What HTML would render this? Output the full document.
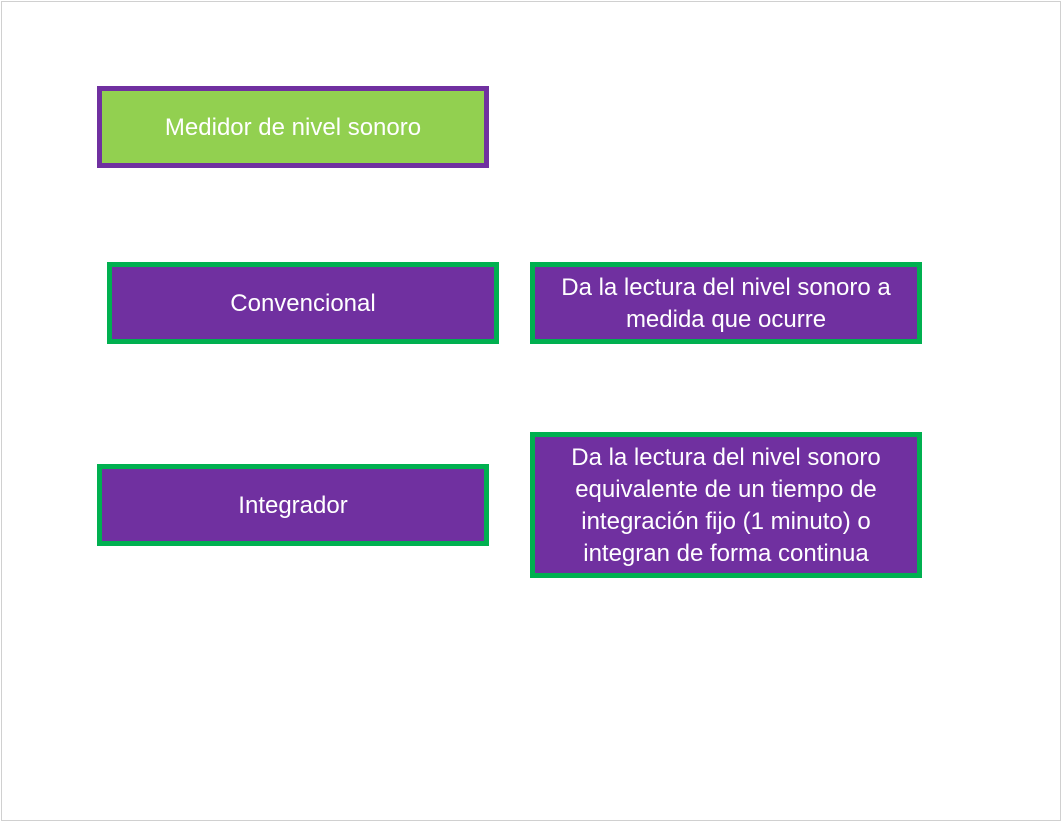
<!DOCTYPE html>
<html><head><style>
body{margin:0;width:1062px;height:822px;background:#fff;position:relative;overflow:hidden;font-family:"Liberation Sans",sans-serif;}
.frame{position:absolute;left:1px;top:1px;width:1058px;height:818px;border:1px solid #d0d0d0;}
.b{position:absolute;box-sizing:border-box;border:5px solid #00b050;background:#7030a0;color:#fff;display:flex;align-items:center;justify-content:center;text-align:center;font-size:24px;line-height:32px;white-space:nowrap;padding-top:2px;}
</style></head><body>
<div class="frame"></div>
<div class="b" style="left:97px;top:86px;width:392px;height:82px;background:#92d050;border-color:#7030a0">Medidor de nivel sonoro</div>
<div class="b" style="left:107px;top:262px;width:392px;height:82px">Convencional</div>
<div class="b" style="left:530px;top:262px;width:392px;height:82px">Da la lectura del nivel sonoro a<br>medida que ocurre</div>
<div class="b" style="left:97px;top:464px;width:392px;height:82px">Integrador</div>
<div class="b" style="left:530px;top:432px;width:392px;height:146px">Da la lectura del nivel sonoro<br>equivalente de un tiempo de<br>integración fijo (1 minuto) o<br>integran de forma continua</div>
</body></html>
